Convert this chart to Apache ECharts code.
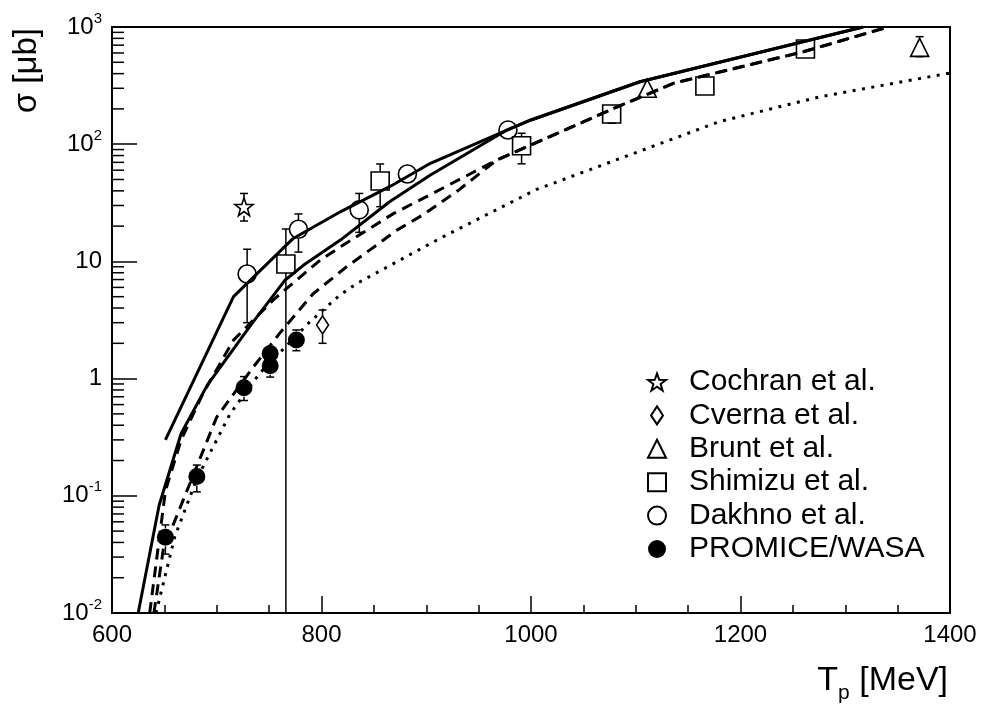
<!DOCTYPE html>
<html><head><meta charset="utf-8">
<script src="https://cdn.jsdelivr.net/npm/echarts@6/dist/echarts.min.js"></script>
<style>html,body{margin:0;padding:0;background:#fff}#c{width:983px;height:707px}</style>
</head><body><div id="c"></div>
<script>
// ---- axis ranges / ticks ----
const xMin = 600, xMax = 1400, xStep = 200;
const yMin = 0.01, yMax = 1000;
const yDecades = [-2, -1, 0, 1, 2, 3];
const yMinorMultipliers = [2, 3, 4, 5, 6, 7, 8, 9];

// ---- data points (T_p [MeV], sigma [mub], lower, upper) ----
const cochranT = [726];
const cochranY = [29.3];
const cochranLo = [22.1];
const cochranHi = [38];

const cvernaT = [801];
const cvernaY = [2.87];
const cvernaLo = [2.0];
const cvernaHi = [3.85];

const bruntT = [1111, 1371];
const bruntY = [300, 670];
const bruntLo = [285, 558];
const bruntHi = [315, 827];

const shimizuT = [766, 856, 991, 1077, 1166, 1262];
const shimizuY = [9.5, 48.5, 97, 181, 314, 649];
const shimizuLo = [0.01, 29.3, 68, 151, 282, 610];
const shimizuHi = [18.9, 67.8, 124, 205, 340, 690];

const dakhnoT = [729, 778, 836, 882, 978];
const dakhnoY = [7.8, 18.8, 27.5, 55.7, 132];
const dakhnoLo = [3.0, 12, 17.7, 50, 120];
const dakhnoHi = [12.7, 25.4, 38, 62, 145];

const promiceT = [651, 681, 726, 751, 751, 776];
const promiceY = [0.0442, 0.146, 0.836, 1.64, 1.29, 2.13];
const promiceLo = [0.0318, 0.108, 0.65, 1.5, 1.03, 1.73];
const promiceHi = [0.0564, 0.183, 1.04, 1.8, 1.45, 2.6];

// ---- model curves ----
const solidUpperT = [651, 716, 773, 818, 865, 904, 977, 1000, 1104, 1317];
const solidUpperY = [0.30, 5.0, 15.7, 26.5, 43.4, 68.7, 132, 161, 341, 1000];
const solidLowerT = [625, 645, 666, 691, 733, 765, 783, 818, 865, 904, 977, 1000, 1104, 1317];
const solidLowerY = [0.01, 0.083, 0.34, 0.88, 2.9, 6.9, 9.3, 15.2, 32.3, 54.6, 132, 161, 341, 1000];
const dashUpperT = [636, 651, 666, 687, 716, 754, 799, 818, 869, 897, 967, 1079, 1136, 1260, 1341];
const dashUpperY = [0.01, 0.11, 0.30, 0.75, 2.13, 4.7, 10.3, 13.3, 25.7, 34.5, 73, 202, 331, 615, 1000];
const dashLowerT = [640, 649, 700, 735, 760, 792, 824, 856, 872, 897, 930, 967, 1079, 1136, 1260, 1341];
const dashLowerY = [0.01, 0.035, 0.47, 1.26, 2.43, 5.3, 9.0, 14.5, 18.5, 25, 40, 73, 202, 331, 615, 1000];
const dottedT = [642, 660, 681, 713, 741, 789, 818, 834, 913, 1005, 1180, 1276, 1400];
const dottedY = [0.01, 0.045, 0.14, 0.506, 1.11, 3.06, 5.2, 6.5, 15.7, 41, 156, 254, 405];

// ---- helpers ----
const FONT = 'Liberation Sans, Arial, Helvetica, sans-serif';
const zip = (a, b) => a.map((v, i) => [v, b[i]]);
const STAR = 'path://M10,0L12.351,6.764L19.511,6.910L13.804,11.236L15.878,18.090L10,14L4.122,18.090L6.196,11.236L0.489,6.910L7.649,6.764Z';
const DIAMOND = 'path://M6,0L12,9L6,18L0,9Z';
const hollow = {color: 'rgba(0,0,0,0)', borderColor: '#000', borderWidth: 1.6, opacity: 1};

function errSeries(xs, ys, lo, hi, gap) {
  return {
    type: 'custom', silent: true, z: 4, clip: true,
    data: xs.map((x, i) => [x, ys[i], lo[i], hi[i]]),
    renderItem: function (params, api) {
      const c = api.coord([api.value(0), api.value(1)]);
      const pl = api.coord([api.value(0), api.value(2)]);
      const ph = api.coord([api.value(0), api.value(3)]);
      const st = {stroke: '#000', lineWidth: 1.5};
      const ch = [];
      const w = 4;
      if (c[1] - ph[1] > gap) {
        ch.push({type: 'line', shape: {x1: c[0], y1: c[1] - gap, x2: ph[0], y2: ph[1]}, style: st});
        ch.push({type: 'line', shape: {x1: ph[0] - w, y1: ph[1], x2: ph[0] + w, y2: ph[1]}, style: st});
      }
      if (pl[1] - c[1] > gap) {
        ch.push({type: 'line', shape: {x1: c[0], y1: c[1] + gap, x2: pl[0], y2: pl[1]}, style: st});
        if (api.value(2) > yMin) ch.push({type: 'line', shape: {x1: pl[0] - w, y1: pl[1], x2: pl[0] + w, y2: pl[1]}, style: st});
      }
      return {type: 'group', children: ch};
    }
  };
}

function curve(xs, ys, dash) {
  return {
    type: 'line', data: zip(xs, ys), showSymbol: false, symbol: 'none', silent: true, z: 3,
    lineStyle: {color: '#000', width: 3, type: dash, cap: 'butt'}
  };
}

const minorVals = [];
yDecades.slice(0, -1).forEach(d => yMinorMultipliers.forEach(m => minorVals.push(m * Math.pow(10, d))));

const option = {
  animation: false,
  backgroundColor: '#fff',
  grid: {left: 112, right: 33, top: 27, bottom: 94, show: true, borderColor: '#000', borderWidth: 2, backgroundColor: 'transparent'},
  legend: {
    orient: 'vertical', left: 642, top: 362, itemWidth: 18, itemHeight: 18, itemGap: 3.4,
    symbolKeepAspect: true,
    textStyle: {fontFamily: FONT, fontSize: 30, color: '#000', lineHeight: 30, padding: [0, 0, 0, 18]},
    data: ['Cochran et al.', 'Cverna et al.', 'Brunt et al.', 'Shimizu et al.', 'Dakhno et al.', 'PROMICE/WASA']
  },
  xAxis: {
    type: 'value', min: xMin, max: xMax, interval: xStep,
    axisLine: {onZero: false, lineStyle: {color: '#000', width: 2}},
    axisTick: {inside: true, length: 17, lineStyle: {color: '#000', width: 1.5}},
    minorTick: {show: true, splitNumber: 4, length: 8, lineStyle: {color: '#000', width: 1.5}},
    splitLine: {show: false},
    axisLabel: {fontFamily: FONT, fontSize: 24, color: '#000', margin: 10, formatter: v => String(v)},
  },
  yAxis: {
    type: 'log', logBase: 10, min: yMin, max: yMax,
    axisLine: {lineStyle: {color: '#000', width: 2}},
    axisTick: {inside: true, length: 25, lineStyle: {color: '#000', width: 1.5}},
    splitLine: {show: false},
    axisLabel: {
      margin: 10, color: '#000',
      formatter: function (v) {
        const e = Math.round(Math.log10(v));
        if (e === 0) return '{b|1}';
        if (e === 1) return '{b|10}';
        return '{b|10}{s|' + e + '}';
      },
      rich: {
        b: {fontFamily: FONT, fontSize: 24, lineHeight: 32, color: '#000'},
        s: {fontFamily: FONT, fontSize: 15, lineHeight: 16, verticalAlign: 'top', color: '#000'}
      }
    }
  },
  graphic: [
    {type: 'text', right: 35, top: 664, style: {
      rich: {t: {fontFamily: FONT, fontSize: 34, fill: '#000'}, p: {fontFamily: FONT, fontSize: 21, fill: '#000', padding: [24, 0, 0, 0]}},
      text: '{t|T}{p|p}{t| [MeV]}', fill: '#000'}},
    {type: 'text', left: 10, top: 28, rotation: Math.PI / 2, style: {text: 'σ [μb]', fontFamily: FONT, fontSize: 33, fill: '#000'}}
  ],
  series: [
    {type: 'custom', silent: true, z: 5, data: minorVals.map(v => [xMin, v]),
      renderItem: function (params, api) {
        const p = api.coord([api.value(0), api.value(1)]);
        return {type: 'line', shape: {x1: p[0], y1: p[1], x2: p[0] + 12, y2: p[1]}, style: {stroke: '#000', lineWidth: 1.5}};
      }},
    curve(solidUpperT, solidUpperY, 'solid'),
    curve(solidLowerT, solidLowerY, 'solid'),
    curve(dashUpperT, dashUpperY, [11, 7]),
    curve(dashLowerT, dashLowerY, [11, 7]),
    curve(dottedT, dottedY, [3, 6.5]),
    errSeries(cochranT, cochranY, cochranLo, cochranHi, 9),
    errSeries(cvernaT, cvernaY, cvernaLo, cvernaHi, 9),
    errSeries(bruntT, bruntY, bruntLo, bruntHi, 9),
    errSeries(shimizuT, shimizuY, shimizuLo, shimizuHi, 9),
    errSeries(dakhnoT, dakhnoY, dakhnoLo, dakhnoHi, 9),
    errSeries(promiceT, promiceY, promiceLo, promiceHi, 9),
    {name: 'Cochran et al.', type: 'scatter', z: 6, data: zip(cochranT, cochranY), symbol: STAR, symbolSize: 18, itemStyle: hollow},
    {name: 'Cverna et al.', type: 'scatter', z: 6, data: zip(cvernaT, cvernaY), symbol: DIAMOND, symbolSize: [12, 18], itemStyle: hollow},
    {name: 'Brunt et al.', type: 'scatter', z: 6, data: zip(bruntT, bruntY), symbol: 'triangle', symbolSize: 18, itemStyle: hollow},
    {name: 'Shimizu et al.', type: 'scatter', z: 6, data: zip(shimizuT, shimizuY), symbol: 'rect', symbolSize: 18, itemStyle: hollow},
    {name: 'Dakhno et al.', type: 'scatter', z: 6, data: zip(dakhnoT, dakhnoY), symbol: 'circle', symbolSize: 18, itemStyle: hollow},
    {name: 'PROMICE/WASA', type: 'scatter', z: 6, data: zip(promiceT, promiceY), symbol: 'circle', symbolSize: 17, itemStyle: {color: '#000', opacity: 1}}
  ]
};
const chart = echarts.init(document.getElementById('c'));
chart.setOption(option);
</script></body></html>
